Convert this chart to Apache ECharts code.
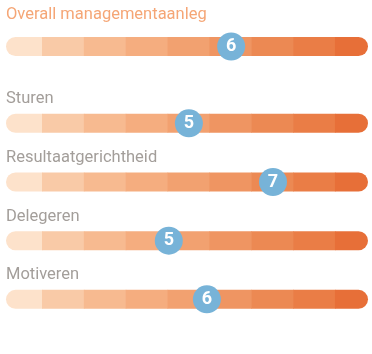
<!DOCTYPE html>
<html>
<head>
<meta charset="utf-8">
<script src="https://cdn.jsdelivr.net/npm/echarts@6/dist/echarts.min.js"></script>
<style>
  html, body { margin: 0; padding: 0; background: #fff; }
  #chart { width: 372px; height: 354px; }
</style>
</head>
<body>
<div id="chart"></div>
<script>
// scale steps 1..9, each segment covers [step, step + 1]
const segSteps = [1, 2, 3, 4, 5, 6, 7, 8, 9]
const segColors = ['#fde2cb', '#f9caa7', '#f7ba90', '#f5ad7f', '#f2a170', '#ef9562', '#ec8953', '#ea7d46', '#e76f38']

const overallName = ['Overall managementaanleg']
const overallScore = [6.52]
const overallGrade = [6]

const rowNames = ['Sturen', 'Resultaatgerichtheid', 'Delegeren', 'Motiveren']
const rowScores = [5.51, 7.52, 5.03, 5.94]
const rowGrades = [5, 7, 5, 6]

const xMin = 1.14
const xMax = 9.79
const barH = 19

function makeRender(names, labelColor, labelGap) {
  return function (params, api) {
    const row = api.value(0)
    const cs = params.coordSys
    const cy = api.coord([xMin, row])[1]
    const left = cs.x
    const right = cs.x + cs.width
    const children = []
    segSteps.forEach((s, k) => {
      let x0 = api.coord([s, row])[0]
      let x1 = api.coord([s + 1, row])[0]
      x0 = Math.max(left, x0)
      x1 = Math.min(right, x1)
      if (x1 <= x0) return
      let r = 0
      if (k === 0) r = [barH / 2, 0, 0, barH / 2]
      if (k === segSteps.length - 1) r = [0, barH / 2, barH / 2, 0]
      children.push({
        type: 'rect',
        shape: { x: x0, y: cy - barH / 2, width: x1 - x0 + (k < segSteps.length - 1 ? 0.6 : 0), height: barH, r: r },
        style: { fill: segColors[k] }
      })
    })
    children.push({
      type: 'text',
      style: {
        text: names[row],
        x: left,
        y: cy - barH / 2 - labelGap,
        textAlign: 'left',
        textVerticalAlign: 'bottom',
        fill: labelColor,
        fontSize: 16.5,
        fontFamily: 'Roboto'
      }
    })
    return { type: 'group', children: children }
  }
}

function markerSeries(idx, scores, grades) {
  return {
    type: 'scatter',
    xAxisIndex: idx,
    yAxisIndex: idx,
    symbol: 'circle',
    symbolSize: 28,
    z: 5,
    itemStyle: { color: '#77b3d8', opacity: 1 },
    label: {
      show: true,
      position: 'inside',
      formatter: (p) => String(grades[p.dataIndex]),
      color: '#fff',
      fontSize: 18,
      fontWeight: 'bold',
      fontFamily: 'Roboto'
    },
    data: scores.map((s, i) => [s, i])
  }
}

const chart = echarts.init(document.getElementById('chart'))

const option = {
  animation: false,
  grid: [
    { left: 6, right: 4, top: 37, height: 19 },
    { left: 6, right: 4, top: 94, height: 234.7 }
  ],
  xAxis: [
    { type: 'value', gridIndex: 0, min: xMin, max: xMax, show: false },
    { type: 'value', gridIndex: 1, min: xMin, max: xMax, show: false }
  ],
  yAxis: [
    { type: 'category', gridIndex: 0, data: overallName, show: false },
    { type: 'category', gridIndex: 1, data: rowNames, inverse: true, show: false }
  ],
  series: [
    {
      type: 'custom',
      xAxisIndex: 0,
      yAxisIndex: 0,
      renderItem: makeRender(overallName, '#f5a676', 14),
      data: overallName.map((n, i) => [i])
    },
    {
      type: 'custom',
      xAxisIndex: 1,
      yAxisIndex: 1,
      renderItem: makeRender(rowNames, '#a39e9a', 6),
      data: rowNames.map((n, i) => [i])
    },
    markerSeries(0, overallScore, overallGrade),
    markerSeries(1, rowScores, rowGrades)
  ]
}

chart.setOption(option)
window.addEventListener('resize', () => chart.resize())
</script>
</body>
</html>
